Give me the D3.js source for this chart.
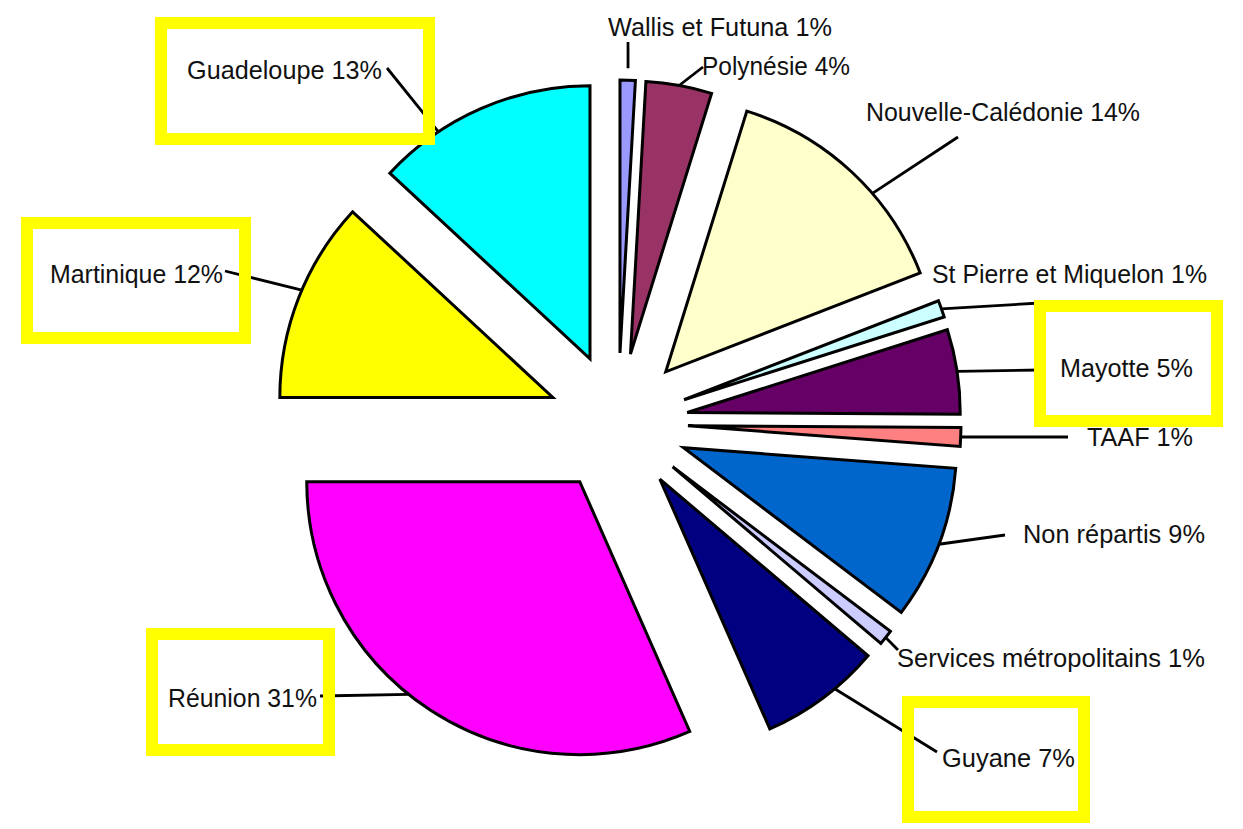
<!DOCTYPE html>
<html><head><meta charset="utf-8">
<script src="https://cdn.jsdelivr.net/npm/d3@7"></script>
<style>html,body{margin:0;padding:0;background:#fff;} svg{display:block}</style>
</head><body><svg id="c" width="1243" height="829"></svg>
<script>
// ---- data ----
const names = ["Wallis et Futuna","Polynésie","Nouvelle-Calédonie","St Pierre et Miquelon","Mayotte","TAAF","Non répartis","Services métropolitains","Guyane","Réunion","Martinique","Guadeloupe"];
const values = [0.9, 3.9, 14.3, 1.0, 5.0, 1.1, 9.1, 0.9, 7.2, 31.6, 11.9, 13.1];
const pctLabels = ["1%","4%","14%","1%","5%","1%","9%","1%","7%","31%","12%","13%"];
const colors = ["#9999FF","#993366","#FFFFCC","#CCFFFF","#660066","#FF8080","#0066CC","#CCCCFF","#000080","#FF00FF","#FFFF00","#00FFFF"];
const highlighted = ["Mayotte","Guyane","Réunion","Martinique","Guadeloupe"];

// ---- layout ----
const cx = 618, cy = 423, R = 273, EXPLODE = 70;
const labelLayout = [
  {x:608,  y:36,  w:224, ex:628,  ey:42,  f:0.5,  dr:12},
  {x:702,  y:75,  w:148, ex:703,  ey:67,  f:0.5,  dr:0},
  {x:866,  y:121, w:274, ex:958,  ey:137, f:0.62, dr:0},
  {x:932,  y:283, w:275, ex:1040, ey:303, f:0.5,  dr:0},
  {x:1060, y:377, w:133, ex:1040, ey:370, f:0.5,  dr:0},
  {x:1087, y:446, w:106, ex:1068, ey:437, f:0.5,  dr:0},
  {x:1023, y:543, w:182, ex:1005, ey:535, f:0.5,  dr:0},
  {x:897,  y:667, w:308, ex:898,  ey:650, f:0.5,  dr:0},
  {x:942,  y:767, w:133, ex:937,  ey:752, f:0.38, dr:0},
  {x:168,  y:707, w:149, ex:320,  ey:696, f:0.55, dr:0},
  {x:50,   y:283, w:173, ex:225,  ey:271, f:0.54, dr:0},
  {x:187,  y:79,  w:195, ex:387,  ey:68,  f:0.285,dr:0}
];
const boxLayout = {
  "Guadeloupe":[155,17,435,145],
  "Martinique":[21,217,251,344],
  "Mayotte":[1034,300,1223,427],
  "Guyane":[902,696,1090,823],
  "Réunion":[146,628,335,756]
};
const BOX_W = 12;

const svg = d3.select("#c");
const pie = d3.pie().sort(null).value(d => d).startAngle(0).endAngle(2*Math.PI);
const arcs = pie(values);
const arc = d3.arc().innerRadius(0).outerRadius(R);

function offset(d){
  const m = (d.startAngle + d.endAngle)/2;
  return [cx + EXPLODE*Math.sin(m), cy - EXPLODE*Math.cos(m)];
}

// slices
svg.append("g").selectAll("path").data(arcs).join("path")
  .attr("transform", d => { const o = offset(d); return `translate(${o[0]},${o[1]})`; })
  .attr("d", arc)
  .attr("fill", (d,i) => colors[i])
  .attr("stroke", "#000")
  .attr("stroke-width", 3)
  .attr("stroke-linejoin", "miter");

// leader lines
svg.append("g").selectAll("line").data(arcs).join("line")
  .each(function(d,i){
    const L = labelLayout[i];
    const o = offset(d);
    const a = d.startAngle + L.f*(d.endAngle - d.startAngle);
    const r = R + L.dr;
    d3.select(this)
      .attr("x1", o[0] + r*Math.sin(a)).attr("y1", o[1] - r*Math.cos(a))
      .attr("x2", L.ex).attr("y2", L.ey);
  })
  .attr("stroke", "#000").attr("stroke-width", 2.8);

// labels
svg.append("g").selectAll("text").data(arcs).join("text")
  .attr("x", (d,i) => labelLayout[i].x)
  .attr("y", (d,i) => labelLayout[i].y)
  .attr("textLength", (d,i) => labelLayout[i].w)
  .attr("lengthAdjust", "spacingAndGlyphs")
  .attr("font-family", "'Liberation Sans', Arial, sans-serif")
  .attr("font-size", 25)
  .attr("fill", "#111")
  .text((d,i) => names[i] + " " + pctLabels[i]);

// highlight boxes
svg.append("g").selectAll("rect").data(highlighted).join("rect")
  .attr("x", n => boxLayout[n][0] + BOX_W/2)
  .attr("y", n => boxLayout[n][1] + BOX_W/2)
  .attr("width", n => boxLayout[n][2] - boxLayout[n][0] - BOX_W)
  .attr("height", n => boxLayout[n][3] - boxLayout[n][1] - BOX_W)
  .attr("fill", "none")
  .attr("stroke", "#FFFF00")
  .attr("stroke-width", BOX_W);
</script>
</body></html>
